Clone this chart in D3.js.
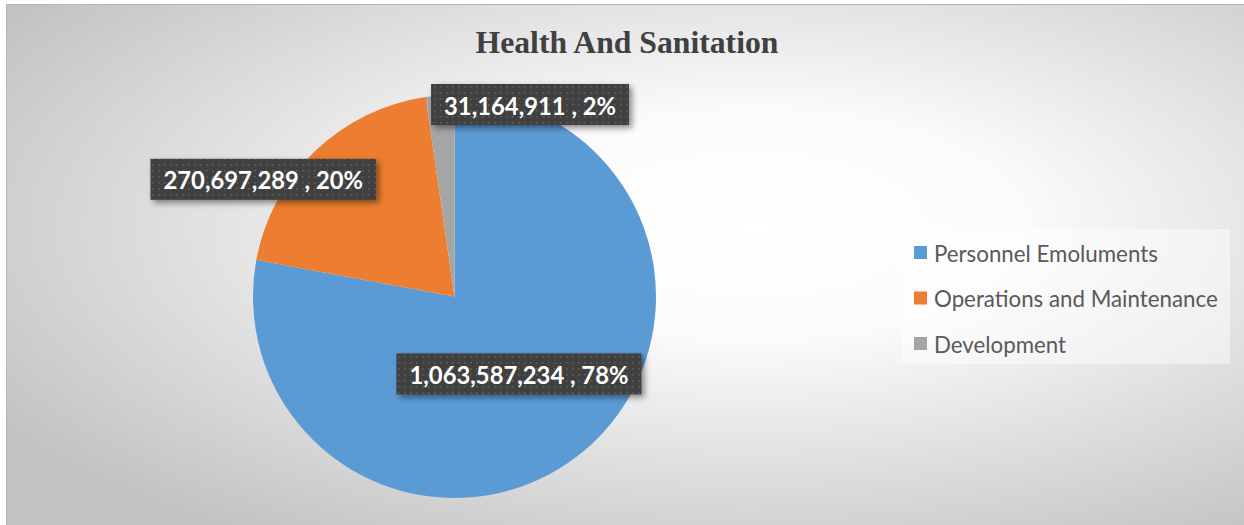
<!DOCTYPE html>
<html>
<head>
<meta charset="utf-8">
<script src="https://cdn.jsdelivr.net/npm/d3@7/dist/d3.min.js"></script>
<style>
  html, body { margin: 0; padding: 0; background: #ffffff; }
  svg { display: block; }
</style>
</head>
<body>
<svg id="chart" width="1244" height="525"></svg>
<script>
// Budget allocation for the Health and Sanitation department
const categories = ["Personnel Emoluments", "Operations and Maintenance", "Development"];
const amounts = [1063587234, 270697289, 31164911];
const percentLabels = ["78%", "20%", "2%"];
const sliceColors = ["#5B9BD5", "#ED7D31", "#A5A5A5"];
const chartTitle = "Health And Sanitation";

const W = 1244, H = 525;
const svg = d3.select("#chart");
const defs = svg.append("defs");

// Soft radial backdrop for the chart area
const grad = defs.append("radialGradient")
  .attr("id", "bgGrad")
  .attr("cx", "0.6").attr("cy", "0.42").attr("r", "0.72");
grad.append("stop").attr("offset", "0").attr("stop-color", "#ffffff");
grad.append("stop").attr("offset", "0.3").attr("stop-color", "#fbfbfb");
grad.append("stop").attr("offset", "1").attr("stop-color", "#c2c2c2");

// Dotted texture used behind the data labels
const pat = defs.append("pattern")
  .attr("id", "dots").attr("patternUnits", "userSpaceOnUse")
  .attr("width", 6).attr("height", 6);
pat.append("rect").attr("width", 6).attr("height", 6).attr("fill", "#3f3f3f");
pat.append("rect").attr("x", 2).attr("y", 2).attr("width", 1.6).attr("height", 1.6).attr("fill", "#5e5e5e");

// Shadow under the label boxes
const shadow = defs.append("filter").attr("id", "shadow")
  .attr("x", "-20%").attr("y", "-40%").attr("width", "150%").attr("height", "200%");
shadow.append("feDropShadow")
  .attr("dx", 3).attr("dy", 3).attr("stdDeviation", 3)
  .attr("flood-color", "#000").attr("flood-opacity", 0.45);

// Chart area
svg.append("rect")
  .attr("x", 6.5).attr("y", 4.5).attr("width", W).attr("height", H)
  .attr("fill", "url(#bgGrad)")
  .attr("stroke", "#b4b4b4").attr("stroke-width", 1);

// Helper: size a text element so it spans the requested width
function fitWidth(sel, target) {
  const node = sel.node();
  const fs = parseFloat(sel.attr("font-size"));
  const w = node.getComputedTextLength();
  sel.attr("font-size", (fs * target / w).toFixed(2));
  return fs * target / w;
}

// Title
const title = svg.append("text")
  .attr("x", 627).attr("y", 53)
  .attr("text-anchor", "middle")
  .attr("font-family", "'Liberation Serif', 'Times New Roman', serif")
  .attr("font-weight", "bold")
  .attr("font-size", 30)
  .attr("fill", "#404040")
  .text(chartTitle);
fitWidth(title, 303);

// Pie
const cx = 454.5, cy = 296.5, R = 201.5;
const pie = d3.pie().sort(null).value(d => d)
  .startAngle(0).endAngle(2 * Math.PI);
const arcs = pie(amounts);
const arcGen = d3.arc().innerRadius(0).outerRadius(R);

const g = svg.append("g").attr("transform", `translate(${cx},${cy})`);
g.selectAll("path.slice")
  .data(arcs)
  .join("path")
  .attr("class", "slice")
  .attr("d", arcGen)
  .attr("fill", (d, i) => sliceColors[i]);

// Data labels: placed along each slice's mid angle, nudged to sit clear of neighbours
const fmt = d3.format(",");
const labelPlacement = [
  { k: 0.5, dx: 0, dy: 0 },
  { k: 1.0, dx: -51.5, dy: 28 },
  { k: 1.0, dx: 90, dy: 9 }
];
const boxH = 41, padX = 13;

const labelG = svg.append("g");
// Compute a shared font size from the widest label
const probe = labelG.append("text")
  .attr("font-family", "Lato, 'Open Sans', sans-serif")
  .attr("font-weight", "bold").attr("font-size", 24)
  .text(`${fmt(amounts[0])} , ${percentLabels[0]}`);
const labelFs = fitWidth(probe, 219);
probe.remove();

arcs.forEach((a, i) => {
  const mid = (a.startAngle + a.endAngle) / 2;
  const p = labelPlacement[i];
  const lx = cx + Math.sin(mid) * R * p.k + p.dx;
  const ly = cy - Math.cos(mid) * R * p.k + p.dy;
  const grp = labelG.append("g");
  const rect = grp.append("rect").attr("fill", "url(#dots)").attr("filter", "url(#shadow)");
  const t = grp.append("text")
    .attr("x", lx).attr("y", ly + 1)
    .attr("text-anchor", "middle")
    .attr("dominant-baseline", "central")
    .attr("font-family", "Lato, 'Open Sans', sans-serif")
    .attr("font-weight", "bold")
    .attr("font-size", labelFs.toFixed(2))
    .attr("fill", "#ffffff")
    .text(`${fmt(amounts[i])} , ${percentLabels[i]}`);
  const tw = t.node().getComputedTextLength();
  rect.attr("x", lx - tw / 2 - padX).attr("y", ly - boxH / 2)
    .attr("width", tw + 2 * padX).attr("height", boxH);
});

// Legend
const legend = svg.append("g");
legend.append("rect")
  .attr("x", 902).attr("y", 229).attr("width", 328).attr("height", 135)
  .attr("fill", "#ffffff").attr("fill-opacity", 0.45);
const rowY = [252, 297.5, 343];
const legendText = [];
categories.forEach((c, i) => {
  legend.append("rect")
    .attr("x", 914).attr("y", rowY[i] - 6).attr("width", 13).attr("height", 13)
    .attr("fill", sliceColors[i]);
  legendText.push(legend.append("text")
    .attr("x", 934).attr("y", rowY[i] + 1)
    .attr("dominant-baseline", "central")
    .attr("font-family", "Lato, 'Open Sans', sans-serif")
    .attr("font-size", 20)
    .attr("fill", "#595959")
    .text(c));
});
const legendFs = fitWidth(legendText[0], 224);
legendText.forEach(t => t.attr("font-size", legendFs.toFixed(2)));
</script>
</body>
</html>
